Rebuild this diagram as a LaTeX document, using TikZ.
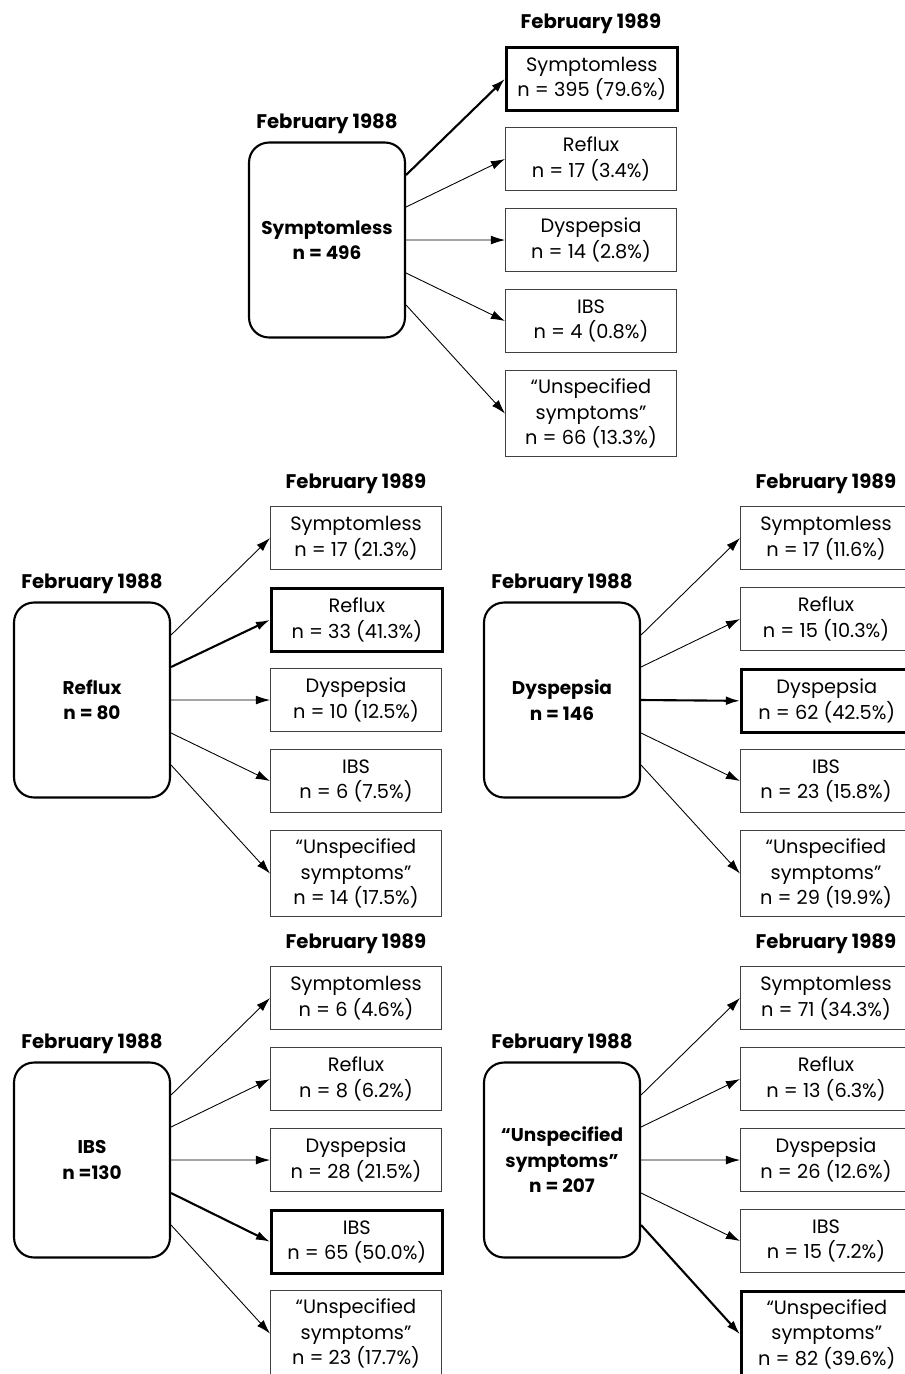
\documentclass[tikz,border=0pt]{standalone}
\usepackage{fontspec}
\setmainfont{Poppins}
\usetikzlibrary{arrows.meta}

\begin{document}
\begin{tikzpicture}[x=0.02cm,y=-0.02cm,
  hdr/.style={font=\bfseries\fontsize{11.2}{13}\selectfont},
  src/.style={draw,line width=1.2pt,rounded corners=0.4cm,minimum width=3.12cm,minimum height=3.9cm,align=center,font=\bfseries\fontsize{10.5}{14.5}\selectfont},
  tgt/.style={draw=black!75,line width=0.6pt,anchor=north west,minimum width=3.42cm,minimum height=1.26cm,inner sep=0pt,align=center,font=\fontsize{11}{14.5}\selectfont},
  tall/.style={minimum height=1.72cm},
  hit/.style={draw=black,line width=1.5pt},
  arr/.style={-{Latex[length=8pt,width=5pt]},line width=0.5pt},
  harr/.style={arr,line width=1.2pt}]
\useasboundingbox (0,0) rectangle (904,1374);

\begin{scope}
  \node[hdr] (a88) at (327,124) {February 1988};
  \node[hdr] (a89) at (591,24) {February 1989};
  \node[src] (a) at (327,240) {Symptomless\\n = 496};
  \node[tgt,hit] (a1) at (505,46) {Symptomless\\n = 395 (79.6\%)};
  \node[tgt] (a2) at (505,127) {Reflux\\n = 17 (3.4\%)};
  \node[tgt] (a3) at (505,208) {Dyspepsia\\n = 14 (2.8\%)};
  \node[tgt] (a4) at (505,289) {IBS\\n = 4 (0.8\%)};
  \node[tgt,tall] (a5) at (505,370) {“Unspecified\\symptoms”\\n = 66 (13.3\%)};
  \draw[harr] ([yshift=1.3cm]a.east) -- (a1.west);
  \draw[arr] ([yshift=0.66cm]a.east) -- (a2.west);
  \draw[arr] (a.east) -- (a3.west);
  \draw[arr] ([yshift=-0.66cm]a.east) -- (a4.west);
  \draw[arr] ([yshift=-1.3cm]a.east) -- (a5.west);
\end{scope}

\begin{scope}[shift={(-235,460)}]
  \node[hdr] (b88) at (327,124) {February 1988};
  \node[hdr] (b89) at (591,24) {February 1989};
  \node[src] (b) at (327,240) {Reflux\\n = 80};
  \node[tgt] (b1) at (505,46) {Symptomless\\n = 17 (21.3\%)};
  \node[tgt,hit] (b2) at (505,127) {Reflux\\n = 33 (41.3\%)};
  \node[tgt] (b3) at (505,208) {Dyspepsia\\n = 10 (12.5\%)};
  \node[tgt] (b4) at (505,289) {IBS\\n = 6 (7.5\%)};
  \node[tgt,tall] (b5) at (505,370) {“Unspecified\\symptoms”\\n = 14 (17.5\%)};
  \draw[arr] ([yshift=1.3cm]b.east) -- (b1.west);
  \draw[harr] ([yshift=0.66cm]b.east) -- (b2.west);
  \draw[arr] (b.east) -- (b3.west);
  \draw[arr] ([yshift=-0.66cm]b.east) -- (b4.west);
  \draw[arr] ([yshift=-1.3cm]b.east) -- (b5.west);
\end{scope}

\begin{scope}[shift={(235,460)}]
  \node[hdr] (c88) at (327,124) {February 1988};
  \node[hdr] (c89) at (591,24) {February 1989};
  \node[src] (c) at (327,240) {Dyspepsia\\n = 146};
  \node[tgt] (c1) at (505,46) {Symptomless\\n = 17 (11.6\%)};
  \node[tgt] (c2) at (505,127) {Reflux\\n = 15 (10.3\%)};
  \node[tgt,hit] (c3) at (505,208) {Dyspepsia\\n = 62 (42.5\%)};
  \node[tgt] (c4) at (505,289) {IBS\\n = 23 (15.8\%)};
  \node[tgt,tall] (c5) at (505,370) {“Unspecified\\symptoms”\\n = 29 (19.9\%)};
  \draw[arr] ([yshift=1.3cm]c.east) -- (c1.west);
  \draw[arr] ([yshift=0.66cm]c.east) -- (c2.west);
  \draw[harr] (c.east) -- (c3.west);
  \draw[arr] ([yshift=-0.66cm]c.east) -- (c4.west);
  \draw[arr] ([yshift=-1.3cm]c.east) -- (c5.west);
\end{scope}

\begin{scope}[shift={(-235,920)}]
  \node[hdr] (d88) at (327,124) {February 1988};
  \node[hdr] (d89) at (591,24) {February 1989};
  \node[src] (d) at (327,240) {IBS\\n =130};
  \node[tgt] (d1) at (505,46) {Symptomless\\n = 6 (4.6\%)};
  \node[tgt] (d2) at (505,127) {Reflux\\n = 8 (6.2\%)};
  \node[tgt] (d3) at (505,208) {Dyspepsia\\n = 28 (21.5\%)};
  \node[tgt,hit] (d4) at (505,289) {IBS\\n = 65 (50.0\%)};
  \node[tgt,tall] (d5) at (505,370) {“Unspecified\\symptoms”\\n = 23 (17.7\%)};
  \draw[arr] ([yshift=1.3cm]d.east) -- (d1.west);
  \draw[arr] ([yshift=0.66cm]d.east) -- (d2.west);
  \draw[arr] (d.east) -- (d3.west);
  \draw[harr] ([yshift=-0.66cm]d.east) -- (d4.west);
  \draw[arr] ([yshift=-1.3cm]d.east) -- (d5.west);
\end{scope}

\begin{scope}[shift={(235,920)}]
  \node[hdr] (e88) at (327,124) {February 1988};
  \node[hdr] (e89) at (591,24) {February 1989};
  \node[src] (e) at (327,240) {“Unspecified\\symptoms”\\n = 207};
  \node[tgt] (e1) at (505,46) {Symptomless\\n = 71 (34.3\%)};
  \node[tgt] (e2) at (505,127) {Reflux\\n = 13 (6.3\%)};
  \node[tgt] (e3) at (505,208) {Dyspepsia\\n = 26 (12.6\%)};
  \node[tgt] (e4) at (505,289) {IBS\\n = 15 (7.2\%)};
  \node[tgt,tall,hit] (e5) at (505,370) {“Unspecified\\symptoms”\\n = 82 (39.6\%)};
  \draw[arr] ([yshift=1.3cm]e.east) -- (e1.west);
  \draw[arr] ([yshift=0.66cm]e.east) -- (e2.west);
  \draw[arr] (e.east) -- (e3.west);
  \draw[arr] ([yshift=-0.66cm]e.east) -- (e4.west);
  \draw[harr] ([yshift=-1.3cm]e.east) -- (e5.west);
\end{scope}
\end{tikzpicture}
\end{document}
